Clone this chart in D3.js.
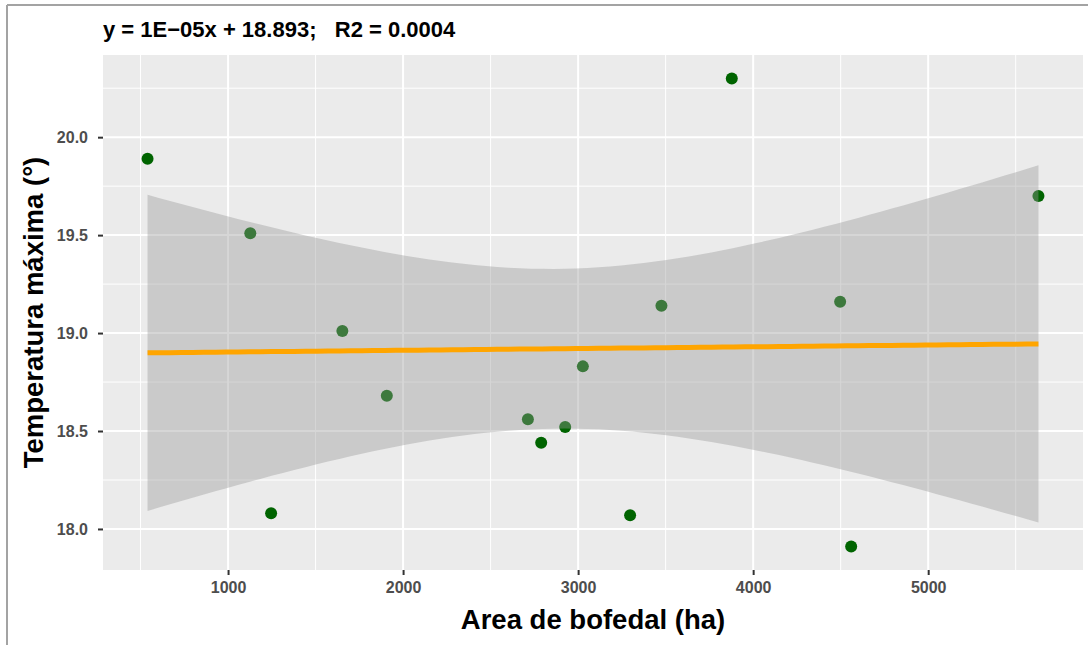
<!DOCTYPE html>
<html>
<head>
<meta charset="utf-8">
<script src="https://cdn.jsdelivr.net/npm/d3@7"></script>
<style>
  body { margin: 0; background: #fff; }
  svg { display: block; font-family: "Liberation Sans", Arial, sans-serif; }
</style>
</head>
<body>
<div id="chart"></div>
<script>
// Area de bofedal (ha) vs temperatura máxima (°)
const area = [540, 1127, 1246, 1653, 1907, 2713, 2789, 2926, 3027, 3297, 3476, 3878, 4497, 4560, 5630];
const tmax = [19.89, 19.51, 18.08, 19.01, 18.68, 18.56, 18.44, 18.52, 18.83, 18.07, 19.14, 20.30, 19.16, 17.91, 19.70];

const xTicks = [1000, 2000, 3000, 4000, 5000];
const xMinor = [500, 1500, 2500, 3500, 4500, 5500];
const yTicks = [18.0, 18.5, 19.0, 19.5, 20.0];
const yMinor = [17.75, 18.25, 18.75, 19.25, 19.75, 20.25];

const titleText = "y = 1E\u221205x + 18.893;   R2 = 0.0004";
const xLabel = "Area de bofedal (ha)";
const yLabel = "Temperatura máxima (°)";

const W = 1088, H = 645;
const m = { top: 55, right: 5, bottom: 75, left: 103 };

const data = area.map((a, i) => ({ x: a, y: tmax[i] }));

// lm fit + 95% confidence band (like geom_smooth(method = "lm"))
function lmFit(pts) {
    const n = pts.length;
    const mx = d3.mean(pts, d => d.x), my = d3.mean(pts, d => d.y);
    const sxx = d3.sum(pts, d => (d.x - mx) ** 2);
    const sxy = d3.sum(pts, d => (d.x - mx) * (d.y - my));
    const slope = sxy / sxx, intercept = my - slope * mx;
    const sse = d3.sum(pts, d => (d.y - (intercept + slope * d.x)) ** 2);
    const s = Math.sqrt(sse / (n - 2));
    return { n, mx, sxx, slope, intercept, s };
}
const fit = lmFit(data);
const tCrit = 2.160; // t(0.975, df = 13)

const [xLo, xHi] = d3.extent(area);
const band = d3.range(80).map(i => {
    const xv = xLo + (xHi - xLo) * i / 79;
    const yv = fit.intercept + fit.slope * xv;
    const se = fit.s * Math.sqrt(1 / fit.n + (xv - fit.mx) ** 2 / fit.sxx);
    return { x: xv, y: yv, lo: yv - tCrit * se, hi: yv + tCrit * se };
});

const svg = d3.select("#chart").append("svg").attr("width", W).attr("height", H);

// screenshot frame (top + left)
svg.append("line").attr("x1", 7).attr("x2", W).attr("y1", 5).attr("y2", 5)
    .attr("stroke", "#a3a3a3").attr("stroke-width", 2);
svg.append("line").attr("x1", 7).attr("x2", 7).attr("y1", 5).attr("y2", H)
    .attr("stroke", "#a3a3a3").attr("stroke-width", 2);

const iw = W - m.left - m.right, ih = H - m.top - m.bottom;
const g = svg.append("g").attr("transform", `translate(${m.left},${m.top})`);

const padX = (xHi - xLo) * 0.05;
const [yLo, yHi] = d3.extent(tmax);
const padY = (yHi - yLo) * 0.05;
const x = d3.scaleLinear().domain([xLo - padX, xHi + padX]).range([0, iw]);
const y = d3.scaleLinear().domain([yLo - padY, yHi + padY]).range([ih, 0]);

// panel
g.append("rect").attr("width", iw).attr("height", ih).attr("fill", "#ebebeb");

// grid
g.append("g").selectAll("line").data(xMinor).join("line")
    .attr("x1", d => x(d)).attr("x2", d => x(d)).attr("y1", 0).attr("y2", ih)
    .attr("stroke", "#fff").attr("stroke-width", 1);
g.append("g").selectAll("line").data(yMinor).join("line")
    .attr("y1", d => y(d)).attr("y2", d => y(d)).attr("x1", 0).attr("x2", iw)
    .attr("stroke", "#fff").attr("stroke-width", 1);
g.append("g").selectAll("line").data(xTicks).join("line")
    .attr("x1", d => x(d)).attr("x2", d => x(d)).attr("y1", 0).attr("y2", ih)
    .attr("stroke", "#fff").attr("stroke-width", 2);
g.append("g").selectAll("line").data(yTicks).join("line")
    .attr("y1", d => y(d)).attr("y2", d => y(d)).attr("x1", 0).attr("x2", iw)
    .attr("stroke", "#fff").attr("stroke-width", 2);

// points (drawn under the ribbon, as in ggplot)
g.append("g").selectAll("circle").data(data).join("circle")
    .attr("cx", d => x(d.x)).attr("cy", d => y(d.y)).attr("r", 6)
    .attr("fill", "#006400");

// confidence ribbon
g.append("path").datum(band)
    .attr("d", d3.area().x(d => x(d.x)).y0(d => y(d.lo)).y1(d => y(d.hi)))
    .attr("fill", "#999999").attr("fill-opacity", 0.4);

// regression line
g.append("path").datum(band)
    .attr("d", d3.line().x(d => x(d.x)).y(d => y(d.y)))
    .attr("fill", "none").attr("stroke", "#ffa500").attr("stroke-width", 5);

// axes
const xAxis = g.append("g").attr("transform", `translate(0,${ih})`)
    .call(d3.axisBottom(x).tickValues(xTicks).tickSize(5).tickPadding(7).tickFormat(d3.format("d")));
const yAxis = g.append("g")
    .call(d3.axisLeft(y).tickValues(yTicks).tickSize(5).tickPadding(10).tickFormat(d3.format(".1f")));
[xAxis, yAxis].forEach(a => {
    a.select(".domain").remove();
    a.selectAll("line").attr("stroke", "#333").attr("stroke-width", 2);
    a.selectAll("text").attr("fill", "#4d4d4d").attr("font-size", 16).attr("font-weight", "bold")
        .attr("font-family", "'Liberation Sans', Arial, sans-serif");
});

// axis titles
svg.append("text").attr("x", m.left + iw / 2).attr("y", 629)
    .attr("text-anchor", "middle").attr("font-size", 27.5).attr("font-weight", "bold")
    .attr("fill", "#000").text(xLabel);
svg.append("text").attr("transform", `translate(43,${m.top + ih / 2}) rotate(-90)`)
    .attr("text-anchor", "middle").attr("font-size", 27.5).attr("font-weight", "bold")
    .attr("fill", "#000").text(yLabel);

// equation title
svg.append("text").attr("x", 103).attr("y", 37)
    .attr("font-size", 22).attr("font-weight", "bold").attr("fill", "#000")
    .style("white-space", "pre").text(titleText);
</script>
</body>
</html>
